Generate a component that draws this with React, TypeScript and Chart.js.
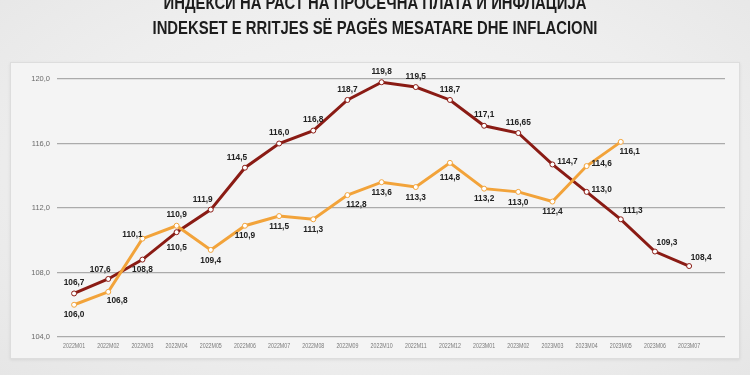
import React, { useEffect, useRef } from 'react';
import { Chart, registerables } from 'chart.js';

Chart.register(...registerables);

// ---------- data ----------
const categories = [
  '2022M01', '2022M02', '2022M03', '2022M04', '2022M05', '2022M06', '2022M07',
  '2022M08', '2022M09', '2022M10', '2022M11', '2022M12', '2023M01', '2023M02',
  '2023M03', '2023M04', '2023M05', '2023M06', '2023M07',
];

// dark red line
const inflationIndex = [
  106.7, 107.6, 108.8, 110.5, 111.9, 114.5, 116.0, 116.8, 118.7, 119.8,
  119.5, 118.7, 117.1, 116.65, 114.7, 113.0, 111.3, 109.3, 108.4,
];

// orange line
const wageIndex = [
  106.0, 106.8, 110.1, 110.9, 109.4, 110.9, 111.5, 111.3, 112.8, 113.6,
  113.3, 114.8, 113.2, 113.0, 112.4, 114.6, 116.1,
];

const yMin = 104;
const yMax = 120;
const yStep = 4;

const titleLines = [
  'ИНДЕКСИ НА РАСТ НА ПРОСЕЧНА ПЛАТА И ИНФЛАЦИЈА',
  'INDEKSET E RRITJES SË PAGËS MESATARE DHE INFLACIONI',
];

// ---------- label placement (style) ----------
const inflationLabelPos = [
  't', 'tl', 'b', 'bb', 'tl', 'tl', 't', 't', 't', 't',
  't', 't', 't', 't', 'r', 'r', 'tr', 'tr', 'tr',
];
const wageLabelPos = [
  'b', 'br', 'l', 't', 'b', 'b', 'b', 'b', 'br', 'b',
  'b', 'bb', 'b', 'b', 'b', 'r', 'br',
];
const OFFSETS: Record<string, [number, number]> = {
  t: [0, -11],
  tl: [-8, -10],
  tr: [12, -9],
  b: [0, 10],
  bb: [0, 15],
  br: [9, 9],
  r: [15, -3],
  l: [-10, -4],
};

const RED = '#8a1b14';
const ORANGE = '#f2a33a';
const FONT = "'Liberation Sans', Arial, sans-serif";

const fmt = (v: number) =>
  (Math.round(v * 100) % 10 === 0 ? v.toFixed(1) : v.toFixed(2)).replace('.', ',');

// draw text horizontally compressed so that `sample` would take `targetW` px
function narrowText(ctx: any, text: string, x: number, y: number, squeeze: number) {
  ctx.save();
  ctx.translate(x, y);
  ctx.scale(squeeze, 1);
  ctx.fillText(text, 0, 0);
  ctx.restore();
}

const labelPlugin = {
  id: 'pointLabels',
  afterDatasetsDraw(chart: any) {
    const ctx = chart.ctx;
    ctx.save();
    // point value labels
    ctx.font = `bold 9.5px ${FONT}`;
    ctx.fillStyle = '#222222';
    ctx.textAlign = 'center';
    ctx.textBaseline = 'middle';
    const sq1 = 25 / ctx.measureText('116,65').width;
    chart.data.datasets.forEach((ds: any, i: number) => {
      const meta = chart.getDatasetMeta(i);
      const pos: string[] = ds.labelPos;
      meta.data.forEach((pt: any, j: number) => {
        const [dx, dy] = OFFSETS[pos[j]] || [0, -10];
        narrowText(ctx, fmt(ds.data[j].y), pt.x + dx, pt.y + dy, sq1);
      });
    });
    // x category labels (compressed)
    const xs = chart.scales.x;
    ctx.font = `7px ${FONT}`;
    ctx.fillStyle = '#7a7a7a';
    const sq2 = 22 / ctx.measureText('2022M01').width;
    categories.forEach((c, i) => {
      narrowText(ctx, c, xs.getPixelForValue(i), xs.top + 9, sq2);
    });
    ctx.restore();
  },
};

function CompressedTitle() {
  const ref = useRef<HTMLDivElement | null>(null);
  useEffect(() => {
    const el = ref.current;
    if (!el) return;
    const c = document.createElement('canvas').getContext('2d') as CanvasRenderingContext2D;
    c.font = `bold 18px ${FONT}`;
    const w = c.measureText(titleLines[1]).width;
    el.style.transform = `scaleX(${445 / w})`;
  }, []);
  return (
    <div
      ref={ref}
      style={{
        position: 'absolute',
        left: 0,
        top: -9,
        width: 750,
        textAlign: 'center',
        fontFamily: FONT,
        fontWeight: 'bold',
        fontSize: 18,
        lineHeight: '25px',
        color: '#1d1d1d',
        transformOrigin: '375px 0',
        whiteSpace: 'nowrap',
      }}
    >
      {titleLines.map((t) => (
        <div key={t}>{t}</div>
      ))}
    </div>
  );
}

export default function App() {
  const canvasRef = useRef<HTMLCanvasElement | null>(null);

  useEffect(() => {
    if (!canvasRef.current) return;
    const chart = new Chart(canvasRef.current, {
      type: 'line',
      data: {
        datasets: [
          {
            label: 'wage',
            data: wageIndex.map((v, i) => ({ x: i, y: v })),
            borderColor: ORANGE,
            borderWidth: 3,
            pointRadius: 2.5,
            pointBackgroundColor: '#ffffff',
            pointBorderColor: ORANGE,
            pointBorderWidth: 1,
            tension: 0,
            labelPos: wageLabelPos,
          } as any,
          {
            label: 'inflation',
            data: inflationIndex.map((v, i) => ({ x: i, y: v })),
            borderColor: RED,
            borderWidth: 3,
            pointRadius: 2.5,
            pointBackgroundColor: '#ffffff',
            pointBorderColor: RED,
            pointBorderWidth: 1,
            tension: 0,
            labelPos: inflationLabelPos,
          } as any,
        ],
      },
      options: {
        responsive: false,
        animation: false,
        layout: { padding: { left: 0, right: 15, top: 17, bottom: 0 } },
        plugins: {
          legend: { display: false },
          tooltip: { enabled: false },
          title: { display: false },
        },
        scales: {
          x: {
            type: 'linear',
            min: -0.5,
            max: 19.05,
            afterBuildTicks: (scale: any) => {
              scale.ticks = categories.map((_, i) => ({ value: i }));
            },
            afterFit: (scale: any) => {
              scale.height = 22;
            },
            grid: { display: false, drawTicks: false },
            border: { display: false },
            ticks: {
              autoSkip: false,
              maxRotation: 0,
              padding: 5,
              color: 'rgba(0,0,0,0)',
              font: { size: 7, family: FONT },
              callback: (v: any) => categories[v] ?? '',
            },
          },
          y: {
            min: yMin,
            max: yMax,
            afterFit: (scale: any) => {
              scale.width = 47;
            },
            grid: { color: '#ababab', lineWidth: 1.3, drawTicks: false },
            border: { display: false },
            ticks: {
              stepSize: yStep,
              padding: 7,
              color: '#6a6a6a',
              font: { size: 7.5, family: FONT },
              callback: (v: any) => Number(v).toFixed(1).replace('.', ','),
            },
          },
        },
      } as any,
      plugins: [labelPlugin],
    });
    return () => chart.destroy();
  }, []);

  return (
    <div
      style={{
        position: 'fixed',
        left: 0,
        top: 0,
        width: 750,
        height: 375,
        overflow: 'hidden',
        background:
          'radial-gradient(ellipse at 50% 45%, #f6f6f6 0%, #eeeeee 60%, #e6e6e6 100%)',
      }}
    >
      <CompressedTitle />
      <div
        style={{
          position: 'absolute',
          left: 10,
          top: 62,
          width: 730,
          height: 297,
          background: '#f4f4f4',
          border: '1px solid #dddddd',
          boxSizing: 'border-box',
          boxShadow: '0 1px 3px rgba(0,0,0,0.08)',
        }}
      >
        <canvas
          ref={canvasRef}
          width={730}
          height={297}
          style={{ position: 'absolute', left: -1, top: -1, width: 730, height: 297 }}
        />
      </div>
    </div>
  );
}
